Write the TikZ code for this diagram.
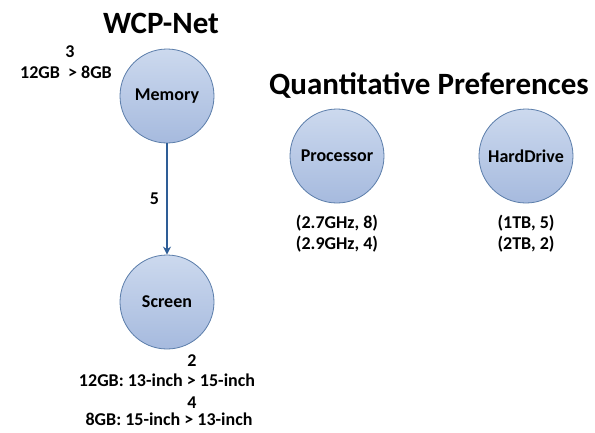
\documentclass[tikz,border=0pt]{standalone}
\usepackage{fontspec}
\setmainfont{Carlito}
\usepackage{tikz}
\usetikzlibrary{arrows.meta}
\usetikzlibrary{positioning}

\definecolor{circtop}{HTML}{CCD9EE}
\definecolor{circbot}{HTML}{A6BADE}
\definecolor{circline}{HTML}{5B7DAA}
\definecolor{arrowblue}{HTML}{2E5D96}

\begin{document}
\begin{tikzpicture}[x=1pt,y=-1pt,
  attr/.style={circle,draw=circline,line width=0.8pt,top color=circtop,bottom color=circbot,
    minimum size=94pt,inner sep=0pt,font=\fontsize{18}{20}\selectfont\bfseries},
  lbl/.style={inner sep=0pt,font=\fontsize{18}{20}\selectfont\bfseries},
  heading/.style={inner sep=0pt,font=\fontsize{31}{34}\selectfont\bfseries}]
\useasboundingbox (0,0) rectangle (595,432);
% WCP-net part
\node[heading] (wcp) at (161,23) {WCP-Net};
\node[attr] (mem) at (167,96) {Memory};
\node[attr] (scr) at (167,302) {Screen};
\draw[arrowblue,line width=2pt,-{Stealth[length=8pt,width=8pt]}] (mem) -- (scr)
  node[midway,left=7pt,lbl,black] (w5) {5};
\node[lbl] (m3) at (70,52) {3};
\node[lbl] (mcpt) at (66,72) {12GB ~> 8GB};
\node[lbl] (s2) at (192,361) {2};
\node[lbl] (scpt1) at (167,380) {12GB: 13-inch > 15-inch};
\node[lbl] (s4) at (192,403) {4};
\node[lbl] (scpt2) at (169,419) {8GB: 15-inch > 13-inch};
% quantitative part
\node[heading] (quant) at (429,86) {Quantitative Preferences};
\node[attr] (proc) at (337,156) {Processor};
\node[attr] (hd) at (526,156) {HardDrive};
\node[lbl] (p1) at (337,223) {(2.7GHz, 8)};
\node[lbl,below=5pt of p1] (p2) {(2.9GHz, 4)};
\node[lbl] (h1) at (526,223) {(1TB, 5)};
\node[lbl,below=5pt of h1] (h2) {(2TB, 2)};
\end{tikzpicture}
\end{document}
